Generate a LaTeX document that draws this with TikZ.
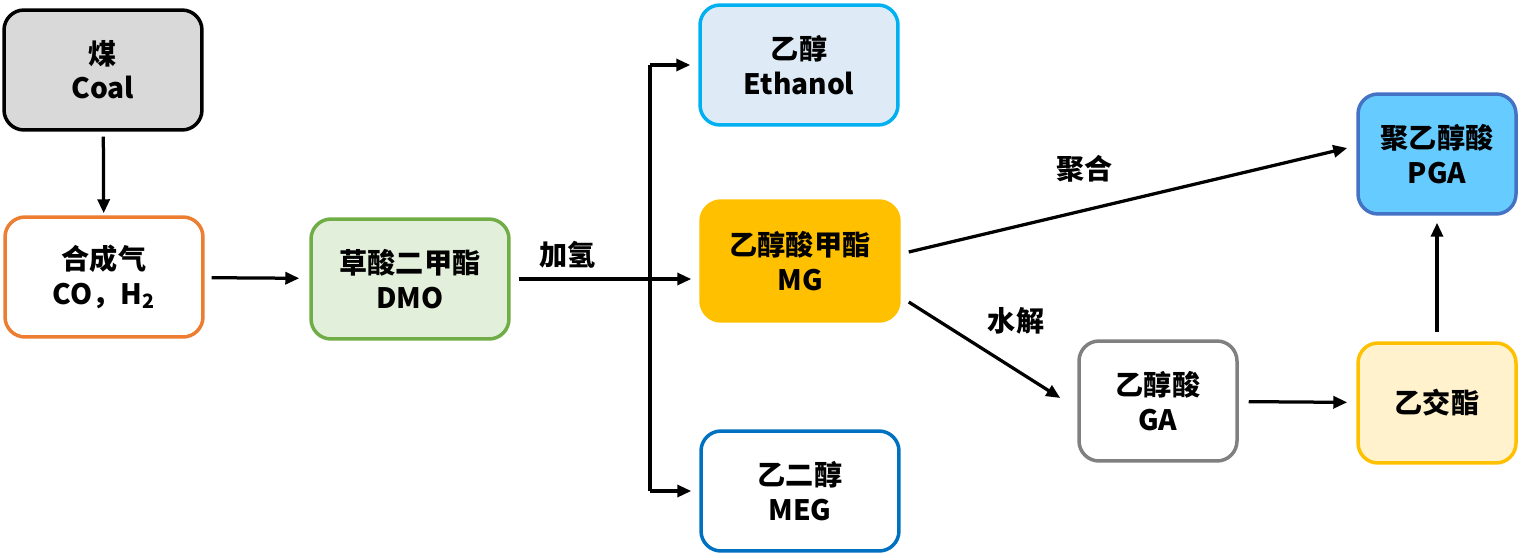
\documentclass[tikz,border=0pt]{standalone}
\usepackage{fontspec}
\setmainfont{Noto Sans CJK SC}
\usetikzlibrary{arrows.meta}

\definecolor{coalfill}{HTML}{D9D9D9}
\definecolor{synline}{HTML}{ED7D31}
\definecolor{dmoline}{HTML}{70AD47}
\definecolor{dmofill}{HTML}{E2EFDA}
\definecolor{ethline}{HTML}{00B0F0}
\definecolor{ethfill}{HTML}{DEEBF7}
\definecolor{mgfill}{HTML}{FFC000}
\definecolor{megline}{HTML}{0070C0}
\definecolor{pgaline}{HTML}{4472C4}
\definecolor{pgafill}{HTML}{66CCFF}
\definecolor{galine}{HTML}{808080}
\definecolor{glfill}{HTML}{FFF2CC}

\tikzset{
  box/.style={rounded corners=0.4cm, line width=0.07cm, align=center,
    minimum width=3.96cm, minimum height=2.4cm, font=\bfseries\fontsize{16}{19.5}\selectfont},
  smallbox/.style={box, minimum width=3.16cm},
  arr/.style={line width=0.065cm, -{Triangle[length=0.28cm,width=0.24cm]}},
  lbl/.style={font=\bfseries\fontsize{16}{19.5}\selectfont}
}

\begin{document}
\begin{tikzpicture}[x=0.02cm,y=-0.02cm]
    \useasboundingbox (0,0) rectangle (1521,555);
    \node[box, draw=black, fill=coalfill] (coal) at (103,70) {煤\\Coal};
    \node[box, draw=synline, fill=white] (syn) at (104,277) {合成气\\CO，H\textsubscript{2}};
    \node[box, draw=dmoline, fill=dmofill] (dmo) at (410,279) {草酸二甲酯\\DMO};
    \node[box, draw=ethline, fill=ethfill] (eth) at (799,65) {乙醇\\Ethanol};
    \node[box, draw=mgfill, fill=mgfill] (mg) at (800,261) {乙醇酸甲酯\\MG};
    \node[box, draw=megline, fill=white] (meg) at (800,491) {乙二醇\\MEG};
    \node[smallbox, draw=pgaline, fill=pgafill] (pga) at (1437,154) {聚乙醇酸\\PGA};
    \node[smallbox, draw=galine, fill=white] (ga) at (1158,401) {乙醇酸\\GA};
    \node[smallbox, draw=mgfill, fill=glfill] (gl) at (1437,403) {乙交酯};

    \coordinate (bt) at (650,65);
    \coordinate (bb) at (650,491);

    \draw[arr, shorten <=0.1cm, shorten >=0.04cm] (coal) -- (syn);
    \draw[arr, shorten <=0.14cm, shorten >=0.2cm] (syn) -- (dmo);
    \draw[arr, shorten <=0.16cm, shorten >=0.16cm] (dmo.east) -- (dmo.east -| mg.west) node[lbl, pos=0.3, above=2pt] {加氢};
    \draw[line width=0.065cm] (bt) -- (bb);
    \draw[arr, shorten >=0.16cm] (bt) -- (eth);
    \draw[arr, shorten >=0.16cm] (bb) -- (meg);
    \draw[arr] ([shift={(8,-9)}]mg.east) -- ([shift={(-9,-6)}]pga.west) node[lbl, pos=0.4, above=12pt] {聚合};
    \draw[arr] ([shift={(8,41)}]mg.east) -- ([shift={(-17,-3)}]ga.west) node[lbl, pos=0.45, above right=2pt] {水解};
    \draw[arr, shorten <=0.2cm, shorten >=0.18cm] (ga) -- (gl);
    \draw[arr, shorten <=0.18cm, shorten >=0.14cm] (gl) -- (pga);
\end{tikzpicture}
\end{document}
